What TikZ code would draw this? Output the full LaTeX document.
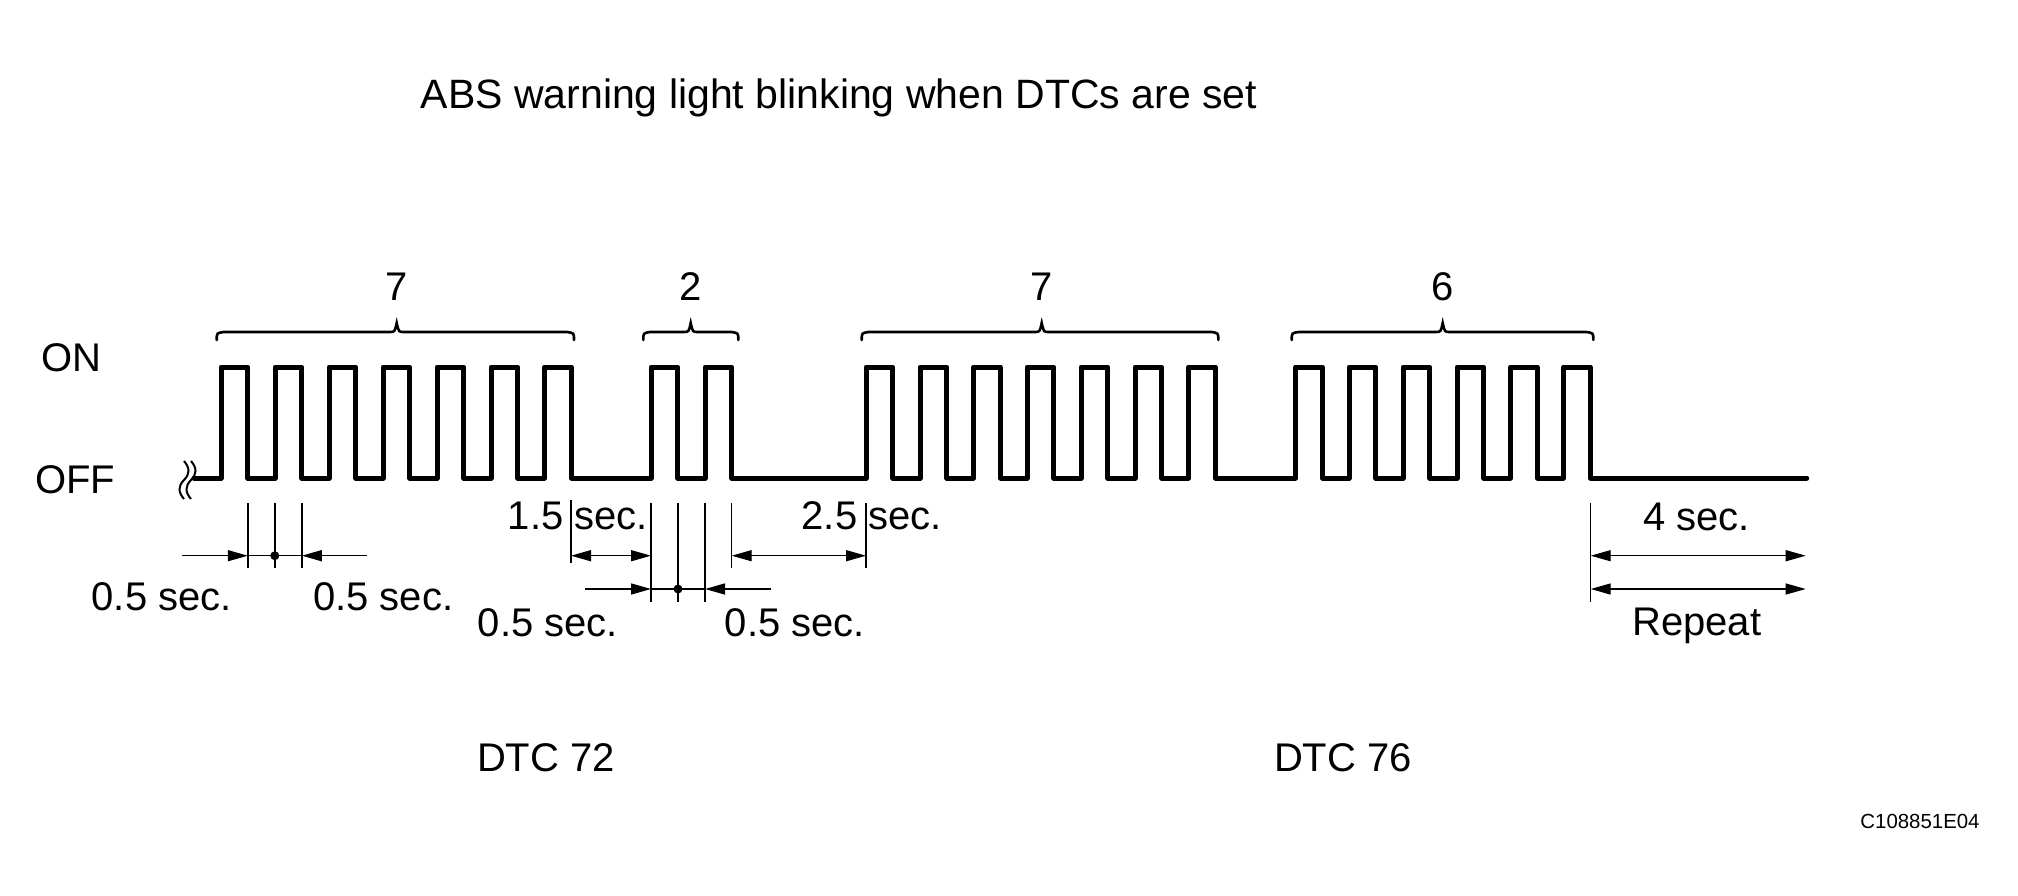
\documentclass[tikz,border=0pt]{standalone}
\usepackage{fontspec}
\setmainfont{Liberation Sans}
\usetikzlibrary{arrows.meta,calc}
\begin{document}
\begin{tikzpicture}[x=1pt,y=-1pt,
  lbl/.style={inner sep=0pt, anchor=base, font=\fontsize{40}{48}\selectfont},
  wave/.style={line width=5pt, line join=round, line cap=round},
  brc/.style={line width=2.6pt, line cap=round},
  dim/.style={line width=1.4pt},
  sq/.style={line width=2pt},
  tipend/.style={-{Triangle[length=20pt,width=11pt]}},
  tipboth/.style={{Triangle[length=20pt,width=11pt]}-{Triangle[length=20pt,width=11pt]}}]
\useasboundingbox (0,0) rectangle (2018,895);
% title
\node[lbl, font=\fontsize{41}{48}\selectfont] (title) at (839,108.5) {ABS warning light blinking when DTCs are set};
% level labels
\node[lbl] (on) at (71.3,371.7) {ON};
\node[lbl] (off) at (75,493.3) {OFF};
% break mark
\foreach \d in {0,7}{
  \draw[sq] (184+\d,461) .. controls (190+\d,468) and (190+\d,474) .. (184+\d,480)
            .. controls (178+\d,486) and (178+\d,492) .. (184+\d,499);
}
% waveform
\draw[wave] (194,478)
  \foreach \s in {221,275,329,383,437,491,544.5,651,705,866,920,973.5,1027,1081,1135,1188.5,1295.5,1349,1403,1457,1510.5,1563.5}
  { -- (\s,478) -- (\s,367) -- (\s+26.8,367) -- (\s+26.8,478) }
  -- (1806.7,478);
% braces and counts
\foreach \L/\T/\R/\c/\n in {216.7/396.7/574/7/ca, 643.3/690.7/738.3/2/cb, 861.7/1041.7/1218.3/7/cc, 1291.7/1442.7/1593.3/6/cd}{
  \draw[brc] (\L,340) .. controls (\L,333) .. (\L+7,332) -- (\T-7,332)
     .. controls (\T-2,332) .. (\T,323) .. controls (\T+2,332) .. (\T+7,332)
     -- (\R-7,332) .. controls (\R,333) .. (\R,340);
  \node[lbl] (\n) at (\T,300) {\c};
}
% ---- dimension group A
\foreach \x/\n in {247.8/a1,274.8/a2,301.8/a3}{
  \coordinate (\n t) at (\x,503); \coordinate (\n b) at (\x,568);
  \draw[dim] (\n t) -- (\n b);
}
\coordinate (aL) at (181.7,555.7);
\coordinate (aR) at (367.3,555.7);
\draw[dim,tipend] (aL) -- (a1t |- aL);
\draw[dim] (a1t |- aL) -- (a3t |- aL);
\draw[dim,tipend] (aR) -- (a3t |- aL);
\fill (a2t |- aL) circle[radius=4.5pt];
\node[lbl] (ta1) at (161.7,610) {0.5 sec.};
\node[lbl] (ta2) at (383.3,610) {0.5 sec.};
% ---- dimension group B
\coordinate (b0t) at (571,500); \coordinate (b0b) at (571,563);
\foreach \x/\n in {651/b1,678/b2,705/b3}{
  \coordinate (\n t) at (\x,503); \coordinate (\n b) at (\x,601.7);
  \draw[dim] (\n t) -- (\n b);
}
\coordinate (b4t) at (731.7,503); \coordinate (b4b) at (731.7,568);
\coordinate (b5t) at (866,503); \coordinate (b5b) at (866,568);
\draw[dim] (b0t) -- (b0b);
\draw[dim] (b4t) -- (b4b);
\draw[dim] (b5t) -- (b5b);
\coordinate (bu) at (0,555.7);
\coordinate (bl) at (0,589);
\draw[dim,tipboth] (b0t |- bu) -- (b1t |- bu);
\draw[dim,tipboth] (b4t |- bu) -- (b5t |- bu);
\coordinate (bL) at (585,589);
\coordinate (bR) at (771,589);
\draw[dim,tipend] (bL) -- (b1t |- bl);
\draw[dim] (b1t |- bl) -- (b3t |- bl);
\draw[dim,tipend] (bR) -- (b3t |- bl);
\fill (b2t |- bl) circle[radius=4.5pt];
\node[lbl] (tb1) at (578,529.5) {1.5 sec.};
\node[lbl] (tb2) at (871.7,529.5) {2.5 sec.};
\node[lbl] (tb3) at (548,636.7) {0.5 sec.};
\node[lbl] (tb4) at (795,636.7) {0.5 sec.};
% ---- dimension group C
\coordinate (c0t) at (1590.7,503); \coordinate (c0b) at (1590.7,601.7);
\draw[dim] (c0t) -- (c0b);
\coordinate (c1) at (1805.7,555.7);
\coordinate (c2) at (1805.7,589);
\draw[dim,tipboth] (c0t |- c1) -- (c1);
\draw[dim,tipboth] (c0t |- c2) -- (c2);
\node[lbl] (tc1) at (1696.7,530) {4 sec.};
\node[lbl] (tc2) at (1696.7,635) {Repeat};
% DTC labels
\node[lbl] (d72) at (546,771) {DTC 72};
\node[lbl] (d76) at (1343,771) {DTC 76};
% code
\node[lbl, font=\fontsize{20.4}{24}\selectfont] (code) at (1920,828) {C108851E04};
\end{tikzpicture}
\end{document}
